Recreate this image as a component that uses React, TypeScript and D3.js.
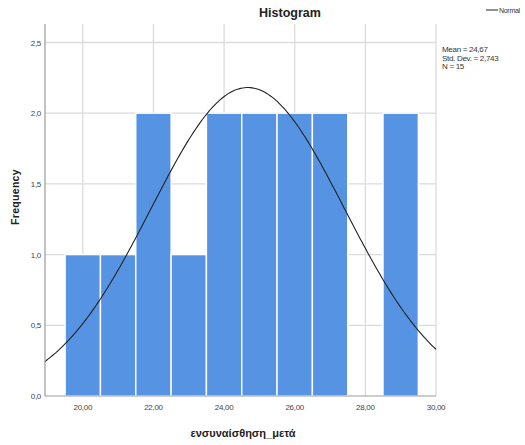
import React from "react";
import * as d3 from "d3";

// Histogram bins (lower edge, upper edge) and counts
const binStarts = [19.5, 20.5, 21.5, 22.5, 23.5, 24.5, 25.5, 26.5, 27.5, 28.5];
const binWidth = 1;
const counts = [1, 1, 2, 1, 2, 2, 2, 2, 0, 2];
const xTicks = [20, 22, 24, 26, 28, 30];
const yTicks = [0, 0.5, 1.0, 1.5, 2.0, 2.5];
const mean = 24.67;
const stdDev = 2.743;
const n = 15;
const statsLines = ["Mean = 24,67", "Std. Dev. = 2,743", "N = 15"];

const W = 525;
const H = 445;
const left = 45;
const right = 436;
const top = 24;
const bottom = 396;

const fmtComma = (v: number, d: number) => v.toFixed(d).replace(".", ",");

export default function App() {
  const x = d3.scaleLinear().domain([18.93, 30]).range([left, right]);
  const y = d3.scaleLinear().domain([0, 2.5]).range([bottom, 42.5]);

  const normal = (v: number) =>
    (n * binWidth) / (stdDev * Math.sqrt(2 * Math.PI)) *
    Math.exp(-0.5 * ((v - mean) / stdDev) ** 2);
  const curvePts = d3.range(0, 201).map((i) => {
    const v = 18.93 + (i / 200) * (30 - 18.93);
    return [v, normal(v)] as [number, number];
  });
  const line = d3
    .line<[number, number]>()
    .x((d) => x(d[0]))
    .y((d) => y(d[1]))
    .curve(d3.curveBasis);

  const font = "Liberation Sans, Arial, sans-serif";

  return (
    <svg
      width={W}
      height={H}
      style={{ position: "absolute", left: 0, top: 0, background: "#fff" }}
      fontFamily={font}
    >
      {/* gridlines */}
      {yTicks.slice(1).map((t) => (
        <line key={"gy" + t} x1={left} x2={right} y1={y(t)} y2={y(t)} stroke="#dcdcdc" strokeWidth={1.3} />
      ))}
      {xTicks.map((t) => (
        <line key={"gx" + t} x1={x(t)} x2={x(t)} y1={top} y2={bottom} stroke="#dcdcdc" strokeWidth={1.3} />
      ))}
      {/* bars */}
      {binStarts.map((b, i) =>
        counts[i] > 0 ? (
          <rect
            key={"b" + i}
            x={x(b)}
            y={y(counts[i])}
            width={x(b + binWidth) - x(b)}
            height={y(0) - y(counts[i])}
            fill="#5694e3"
            stroke="#ffffff"
            strokeWidth={1.4}
          />
        ) : null
      )}
      {/* normal curve */}
      <path d={line(curvePts) || ""} fill="none" stroke="#222" strokeWidth={1.1} />
      {/* axes */}
      <line x1={left} x2={left} y1={top} y2={bottom} stroke="#9a9a9a" strokeWidth={1.2} />
      <line x1={left} x2={right} y1={bottom} y2={bottom} stroke="#9a9a9a" strokeWidth={1.2} />
      {/* tick labels */}
      {yTicks.map((t) => (
        <text key={"ty" + t} x={41} y={y(t) + 3} fontSize={8} fill="#444" textAnchor="end" letterSpacing={-0.3}>
          {fmtComma(t, 1)}
        </text>
      ))}
      {xTicks.map((t) => (
        <text key={"tx" + t} x={x(t)} y={410} fontSize={8} fill="#444" textAnchor="middle" letterSpacing={-0.3}>
          {fmtComma(t, 2)}
        </text>
      ))}
      {/* titles */}
      <text x={290} y={17} fontSize={12.5} fontWeight="bold" textAnchor="middle" fill="#222">
        Histogram
      </text>
      <text
        transform="translate(19,197) rotate(-90)"
        fontSize={10.5}
        fontWeight="bold"
        textAnchor="middle"
        fill="#222"
        letterSpacing={0.3}
      >
        Frequency
      </text>
      <text x={243} y={437} fontSize={11} fontWeight="bold" textAnchor="middle" fill="#222">
        ενσυναίσθηση_μετά
      </text>
      {/* legend */}
      <line x1={486} x2={498} y1={10} y2={10} stroke="#222" strokeWidth={1} />
      <text x={499} y={12.5} fontSize={7} fill="#333" letterSpacing={-0.3}>
        Normal
      </text>
      {statsLines.map((s, i) => (
        <text key={"s" + i} x={442} y={52 + i * 8.7} fontSize={8} fill="#333" letterSpacing={-0.3}>
          {s}
        </text>
      ))}
    </svg>
  );
}
